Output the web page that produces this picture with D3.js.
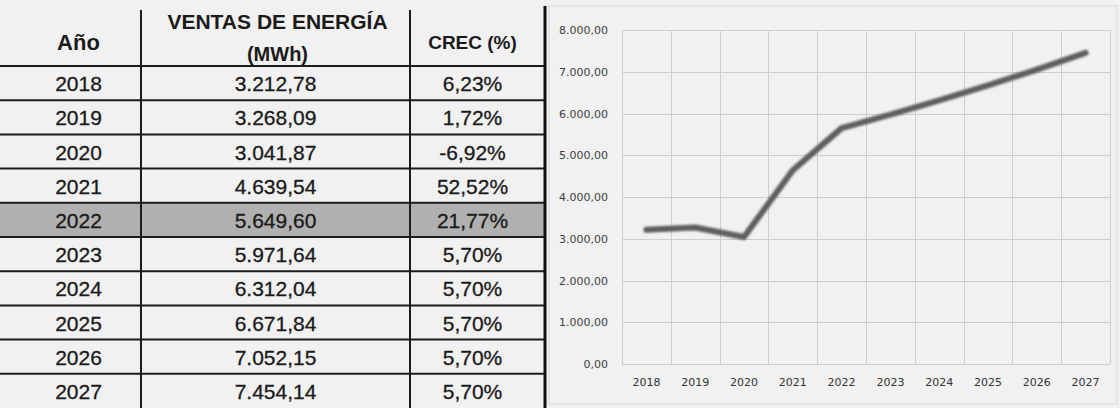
<!DOCTYPE html>
<html>
<head>
<meta charset="utf-8">
<script src="https://cdn.jsdelivr.net/npm/d3@7"></script>
<style>
  body { margin: 0; background: #f1f1f1; }
  svg { display: block; }
</style>
</head>
<body>
<div id="chart"></div>
<script>
var years = ["2018", "2019", "2020", "2021", "2022", "2023", "2024", "2025", "2026", "2027"];
var sales = [3212.78, 3268.09, 3041.87, 4639.54, 5649.60, 5971.64, 6312.04, 6671.84, 7052.15, 7454.14];
var growth = [6.23, 1.72, -6.92, 52.52, 21.77, 5.70, 5.70, 5.70, 5.70, 5.70];
var highlightYear = "2022";
var yTicks = [0, 1000, 2000, 3000, 4000, 5000, 6000, 7000, 8000];

var width = 1120, height = 408;

var es = d3.formatLocale({decimal: ",", thousands: ".", grouping: [3], currency: ["", ""], minus: "-"});
var fmtNum = es.format(",.2f");
var fmtPct = function(v) { return es.format(".2f")(v) + "%"; };

var svg = d3.select("#chart").append("svg")
    .attr("width", width)
    .attr("height", height);

svg.append("rect")
    .attr("width", width)
    .attr("height", height)
    .attr("fill", "#f1f1f1");

// ---------- table ----------
var colX = [0, 141, 410, 545];
var headerH = 66, rowH = 34.2;

var rowY = d3.scaleBand()
    .domain(years)
    .range([headerH, headerH + rowH * years.length]);

var table = svg.append("g").attr("class", "table");

table.selectAll(".hl")
    .data(years.filter(function(d) { return d === highlightYear; }))
    .enter().append("rect")
    .attr("x", 0)
    .attr("y", function(d) { return rowY(d); })
    .attr("width", colX[3])
    .attr("height", rowY.bandwidth())
    .attr("fill", "#b0b0b0");

// horizontal rules
table.selectAll(".hline")
    .data(years)
    .enter().append("line")
    .attr("x1", 0)
    .attr("x2", colX[3])
    .attr("y1", function(d) { return rowY(d); })
    .attr("y2", function(d) { return rowY(d); })
    .attr("stroke", "#1c1c1c")
    .attr("stroke-width", 2);

// vertical rules
table.selectAll(".vline")
    .data([colX[1], colX[2]])
    .enter().append("line")
    .attr("x1", function(d) { return d; })
    .attr("x2", function(d) { return d; })
    .attr("y1", 10)
    .attr("y2", height)
    .attr("stroke", "#1c1c1c")
    .attr("stroke-width", 2);

table.append("line")
    .attr("x1", colX[3]).attr("x2", colX[3])
    .attr("y1", 6).attr("y2", height)
    .attr("stroke", "#111")
    .attr("stroke-width", 3);

var font = "'Liberation Sans', Arial, sans-serif";

var head = table.append("g")
    .attr("font-family", font)
    .attr("font-weight", "bold")
    .attr("fill", "#1a1a1a")
    .attr("text-anchor", "middle");

head.append("text")
    .attr("x", (colX[0] + colX[1]) / 2 + 8)
    .attr("y", 50)
    .attr("font-size", 22)
    .text("Año");
head.append("text")
    .attr("x", (colX[1] + colX[2]) / 2 + 2)
    .attr("y", 29)
    .attr("font-size", 21)
    .text("VENTAS DE ENERGÍA");
head.append("text")
    .attr("x", (colX[1] + colX[2]) / 2 + 2)
    .attr("y", 61)
    .attr("font-size", 20)
    .text("(MWh)");
head.append("text")
    .attr("x", (colX[2] + colX[3]) / 2 - 5)
    .attr("y", 49)
    .attr("font-size", 19)
    .text("CREC (%)");

var rows = table.selectAll(".row")
    .data(years)
    .enter().append("g")
    .attr("class", "row")
    .attr("transform", function(d) {
        return "translate(0," + (rowY(d) + rowY.bandwidth() / 2 + 8) + ")";
    })
    .attr("font-family", font)
    .attr("font-size", 21)
    .attr("fill", "#1a1a1a")
    .attr("stroke", "#1a1a1a")
    .attr("stroke-width", 0.3)
    .attr("text-anchor", "middle");

rows.append("text")
    .attr("x", (colX[0] + colX[1]) / 2 + 8)
    .text(function(d) { return d; });
rows.append("text")
    .attr("x", (colX[1] + colX[2]) / 2)
    .text(function(d, i) { return fmtNum(sales[i]); });
rows.append("text")
    .attr("x", (colX[2] + colX[3]) / 2 - 5)
    .text(function(d, i) { return fmtPct(growth[i]); });

// ---------- line chart ----------
var plot = {left: 622, right: 1110, top: 30, bottom: 364};

// faint chart frame
svg.append("rect")
    .attr("x", 549).attr("y", 6)
    .attr("width", 568).attr("height", 398)
    .attr("fill", "none")
    .attr("stroke", "#dadada");

var x = d3.scaleBand()
    .domain(years)
    .range([plot.left, plot.right])
    .padding(0);

var y = d3.scaleLinear()
    .domain([0, 8000])
    .range([plot.bottom, plot.top]);

var grid = svg.append("g")
    .attr("stroke", "#cdcdcd")
    .attr("stroke-width", 1);

grid.selectAll(".hg")
    .data(yTicks)
    .enter().append("line")
    .attr("x1", plot.left).attr("x2", plot.right)
    .attr("y1", function(d) { return Math.round(y(d)) + 0.5; })
    .attr("y2", function(d) { return Math.round(y(d)) + 0.5; });

grid.selectAll(".vg")
    .data(years.concat(["end"]))
    .enter().append("line")
    .attr("x1", function(d) { return Math.round(d === "end" ? plot.right : x(d)) + 0.5; })
    .attr("x2", function(d) { return Math.round(d === "end" ? plot.right : x(d)) + 0.5; })
    .attr("y1", plot.top)
    .attr("y2", plot.bottom);

var axisFont = "'DejaVu Sans', sans-serif";

var yAxis = svg.append("g")
    .attr("transform", "translate(" + (plot.left - 14) + ",0)")
    .call(d3.axisLeft(y).tickValues(yTicks).tickFormat(fmtNum).tickSize(0).tickPadding(0));
yAxis.select(".domain").remove();
yAxis.selectAll("text")
    .attr("font-family", axisFont)
    .attr("font-size", 11)
    .attr("fill", "#3e3e3e");

var xAxis = svg.append("g")
    .attr("transform", "translate(0," + (plot.bottom + 12) + ")")
    .call(d3.axisBottom(x).tickSize(0).tickPadding(2));
xAxis.select(".domain").remove();
xAxis.selectAll("text")
    .attr("font-family", axisFont)
    .attr("font-size", 11)
    .attr("fill", "#333");

var defs = svg.append("defs");
defs.append("filter")
    .attr("id", "soft")
    .append("feGaussianBlur")
    .attr("stdDeviation", 0.9);

var line = d3.line()
    .x(function(d, i) { return x(years[i]) + x.bandwidth() / 2; })
    .y(function(d) { return y(d); });

svg.append("path")
    .datum(sales)
    .attr("d", line)
    .attr("fill", "none")
    .attr("stroke", "#5f5f5f")
    .attr("stroke-width", 6)
    .attr("stroke-linejoin", "round")
    .attr("stroke-linecap", "round")
    .attr("filter", "url(#soft)");
</script>
</body>
</html>
